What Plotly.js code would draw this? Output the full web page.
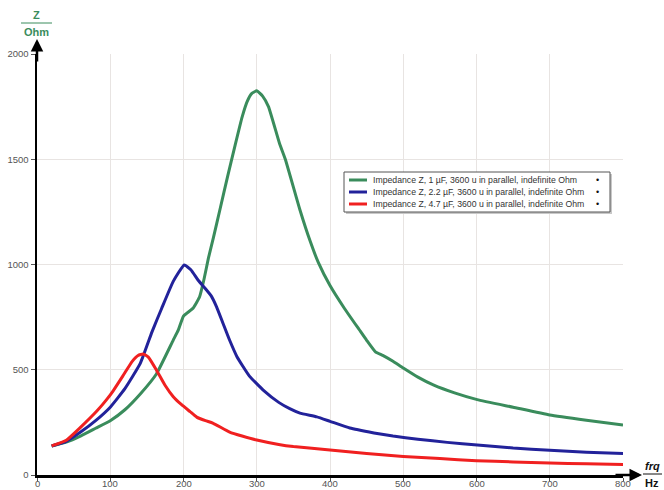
<!DOCTYPE html>
<html>
<head>
<meta charset="utf-8">
<script src="https://cdn.plot.ly/plotly-3.0.1.min.js"></script>
<style>html,body{margin:0;padding:0;background:#fff;}#chart{width:664px;height:490px;}</style>
</head>
<body>
<div id="chart"></div>
<script>
// ---- data ----
const seriesNames = [
  "Impedance Z, 1 µF, 3600 u in parallel, indefinite Ohm",
  "Impedance Z, 2.2 µF, 3600 u in parallel, indefinite Ohm",
  "Impedance Z, 4.7 µF, 3600 u in parallel, indefinite Ohm"
];
const freqGreen = [20,40,60,80,100,120,141,163,186,193,200,213,222,228,234,241,250,260,270,280,287,293,300,308,316,331,339,359,373,384,400,420,440,450,462,472,486,500,520,541,570,601,650,700,750,800];
const zGreen    = [138,156,186,222,258,310,385,480,641,689,755,792,847,930,1030,1130,1265,1415,1560,1700,1775,1812,1825,1800,1750,1576,1500,1259,1110,1010,900,790,690,640,585,568,540,508,465,428,390,358,322,285,260,237];
const freqBlue  = [20,40,60,80,100,120,141,157,170,186,201,210,220,230,238,245,254,263,273,290,310,330,345,359,382,400,427,460,486,520,560,601,650,700,750,800];
const zBlue     = [138,160,205,258,322,410,530,680,790,920,998,975,925,885,850,800,720,640,562,470,400,345,315,294,276,255,223,200,185,170,155,143,128,118,108,102];
const freqRed   = [20,40,59,82,95,104,118,130,138,145,152,163,175,186,197,209,218,230,240,263,280,300,330,350,400,450,500,550,600,650,700,750,800];
const zRed      = [138,165,225,305,358,400,475,540,568,575,560,499,425,372,335,301,275,258,247,204,185,166,145,135,119,102,88,78,68,62,57,53,50];
const xTicks = [0,100,200,300,400,500,600,700,800];
const yTicks = [0,500,1000,1500,2000];
const colors = ["#3a8c5c","#22229a","#f02020"];

// ---- geometry helpers ----
const L = 37, R = 41, T = 54, B = 15, W = 664, H = 490;
const pw = W - L - R, ph = H - T - B;
const px = x => (x - L) / pw;
const py = y => (H - B - y) / ph;

const traces = [
  {x: freqGreen, y: zGreen, name: seriesNames[0]},
  {x: freqBlue,  y: zBlue,  name: seriesNames[1]},
  {x: freqRed,   y: zRed,   name: seriesNames[2]}
].map((t, i) => Object.assign(t, {type: "scatter", mode: "lines", line: {color: colors[i], width: 3, shape: "spline", smoothing: 0.4}, showlegend: false, hoverinfo: "skip"}));

const font = "Liberation Sans, Arial, sans-serif";
const shapes = [];
const annotations = [];

// x tick labels (placed on the x scale)
xTicks.forEach(v => {
  annotations.push({xref: "x", yref: "paper", x: v, y: py(483), text: String(v), showarrow: false, font: {family: font, size: 9.5, color: "#555"}, xanchor: "center", yanchor: "middle"});
});

// axis arrows
annotations.push({xref: "paper", yref: "paper", x: px(642), y: py(475), ax: -28, ay: 0, text: "", showarrow: true, arrowhead: 2, arrowsize: 1, arrowwidth: 2.5, arrowcolor: "#000"});
annotations.push({xref: "paper", yref: "paper", x: px(37), y: py(39), ax: 0, ay: 24, text: "", showarrow: true, arrowhead: 2, arrowsize: 1, arrowwidth: 2.5, arrowcolor: "#000"});

// Z / Ohm label
annotations.push({xref: "paper", yref: "paper", x: px(36), y: py(15), text: "<b>Z</b>", showarrow: false, font: {family: font, size: 11, color: "#3a8c5c"}, xanchor: "center", yanchor: "middle"});
annotations.push({xref: "paper", yref: "paper", x: px(36), y: py(32), text: "<b>Ohm</b>", showarrow: false, font: {family: font, size: 11, color: "#3a8c5c"}, xanchor: "center", yanchor: "middle"});
shapes.push({type: "line", xref: "paper", yref: "paper", x0: px(21), x1: px(52), y0: py(23), y1: py(23), line: {color: "#3a8c5c", width: 1}});

// frq / Hz label
annotations.push({xref: "paper", yref: "paper", x: px(652), y: py(466), text: "<b><i>frq</i></b>", showarrow: false, font: {family: font, size: 11, color: "#111"}, xanchor: "center", yanchor: "middle"});
annotations.push({xref: "paper", yref: "paper", x: px(652), y: py(483), text: "<b>Hz</b>", showarrow: false, font: {family: font, size: 11, color: "#111"}, xanchor: "center", yanchor: "middle"});
shapes.push({type: "line", xref: "paper", yref: "paper", x0: px(643), x1: px(662), y0: py(474), y1: py(474), line: {color: "#111", width: 1}});

// custom legend
shapes.push({type: "rect", xref: "paper", yref: "paper", x0: px(346), x1: px(612), y0: py(174), y1: py(214), line: {width: 0}, fillcolor: "#c8c8c8"});
shapes.push({type: "rect", xref: "paper", yref: "paper", x0: px(344), x1: px(610), y0: py(172), y1: py(212), line: {color: "#555", width: 1}, fillcolor: "#fff"});
const rowsY = [180, 192, 204];
seriesNames.forEach((n, i) => {
  shapes.push({type: "line", xref: "paper", yref: "paper", x0: px(349), x1: px(367), y0: py(rowsY[i]), y1: py(rowsY[i]), line: {color: colors[i], width: 3}});
  annotations.push({xref: "paper", yref: "paper", x: px(371), y: py(rowsY[i]), text: n, showarrow: false, font: {family: font, size: 8.7, color: "#333"}, xanchor: "left", yanchor: "middle"});
  annotations.push({xref: "paper", yref: "paper", x: px(597), y: py(rowsY[i]), text: "•", showarrow: false, font: {family: font, size: 9, color: "#111"}, xanchor: "center", yanchor: "middle"});
});

const layout = {
  width: W, height: H,
  margin: {l: L, r: R, t: T, b: B, pad: 0},
  paper_bgcolor: "#fff", plot_bgcolor: "#fff",
  showlegend: false,
  font: {family: font, size: 10, color: "#555"},
  xaxis: {range: [0, 800], tickvals: xTicks, showticklabels: false, showgrid: true, gridcolor: "#e8e4e2", gridwidth: 1,
          zeroline: false, showline: true, linecolor: "#000", linewidth: 2.5, ticks: "outside", ticklen: 3, tickcolor: "#555", tickwidth: 1,
          fixedrange: true},
  yaxis: {range: [0, 2000], tickvals: yTicks, ticktext: yTicks.map(String), showgrid: true, gridcolor: "#e8e4e2", gridwidth: 1,
          zeroline: false, showline: true, linecolor: "#000", linewidth: 2.5, ticks: "outside", ticklen: 4, tickcolor: "#555", tickwidth: 1,
          tickfont: {family: font, size: 9.5, color: "#555"}, fixedrange: true},
  shapes: shapes,
  annotations: annotations
};

Plotly.newPlot("chart", traces, layout, {displayModeBar: false, staticPlot: true});
</script>
</body>
</html>
